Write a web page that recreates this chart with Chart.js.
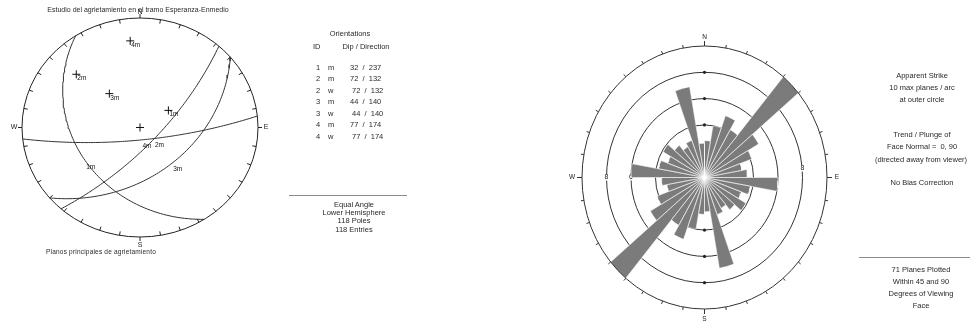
<!DOCTYPE html>
<html>
<head>
<meta charset="utf-8">
<script src="https://cdn.jsdelivr.net/npm/chart.js@4/dist/chart.umd.min.js"></script>
<style>
  body { margin: 0; background: #fff; width: 970px; height: 324px; overflow: hidden; position: relative;
         font-family: "Liberation Sans", Arial, sans-serif; color: #2a2a2a; }
  #txt { position: absolute; left: 0; top: 0; width: 970px; height: 324px; filter: grayscale(1); will-change: transform; }
  .t { position: absolute; font-size: 7.5px; line-height: 1; white-space: nowrap; -webkit-font-smoothing: antialiased; }
  .c { transform: translateX(-50%); }
  .rule { position: absolute; height: 1px; background: #8a8a8a; }
</style>
</head>
<body>
<div style="position:absolute;left:0;top:0;width:280px;height:262px"><canvas id="stereo"></canvas></div>
<div style="position:absolute;left:560px;top:0;width:290px;height:324px"><canvas id="rose"></canvas></div>

<div id="txt">
<div class="t c" style="left:138px;top:6px;font-size:7px">Estudio del agrietamiento en el tramo Esperanza-Enmedio</div>
<div class="t c" style="left:101px;top:249px;font-size:6.5px;letter-spacing:0.2px">Planos principales de agrietamiento</div>

<div class="t c" style="left:350px;top:30px">Orientations</div>
<div class="t" style="left:313px;top:43px">ID</div>
<div class="t c" style="left:366px;top:43px">Dip / Direction</div>
<div id="rows"></div>

<div class="rule" style="left:289px;top:195px;width:118px"></div>
<div class="t c" style="left:354px;top:201px">Equal Angle</div>
<div class="t c" style="left:354px;top:209px">Lower Hemisphere</div>
<div class="t c" style="left:354px;top:217px">118 Poles</div>
<div class="t c" style="left:354px;top:226px">118 Entries</div>

<div class="t c" style="left:922px;top:72px">Apparent Strike</div>
<div class="t c" style="left:922px;top:84px">10 max planes / arc</div>
<div class="t c" style="left:922px;top:96px">at outer circle</div>
<div class="t c" style="left:922px;top:131px">Trend / Plunge of</div>
<div class="t c" style="left:922px;top:143px">Face Normal =&nbsp;&nbsp;0, 90</div>
<div class="t c" style="left:921px;top:156px">(directed away from viewer)</div>
<div class="t c" style="left:922px;top:179px">No Bias Correction</div>

<div class="rule" style="left:859px;top:257px;width:111px"></div>
<div class="t c" style="left:921px;top:266px">71 Planes Plotted</div>
<div class="t c" style="left:921px;top:278px">Within 45 and 90</div>
<div class="t c" style="left:921px;top:290px">Degrees of Viewing</div>
<div class="t c" style="left:921px;top:302px">Face</div>
</div>

<script>
// stereonet: mean (m) and weighted (w) plane orientations
const planeIds = ["1", "2", "2", "3", "3", "4", "4"];
const planeTypes = ["m", "m", "w", "m", "w", "m", "w"];
const dips = [32, 72, 72, 44, 44, 77, 77];
const dipDirections = [237, 132, 132, 140, 140, 174, 174];

// rose diagram: apparent strike, 10 degree arcs (bidirectional)
const strikeBinStarts = [0, 10, 20, 30, 40, 50, 60, 70, 80, 90, 100, 110, 120, 130, 140, 150, 160, 170];
const planesPerArc = [2.8, 4, 5, 4.2, 10, 5.1, 4.1, 3.1, 3.5, 6, 3.8, 3.2, 3.9, 3.2, 2.7, 3, 7, 2.6];
const ringValues = [2, 4, 6, 8];
const ringMax = 10;

const RAD = Math.PI / 180;
const FONT = '7px "Liberation Sans", Arial, sans-serif';

// table rows
const rowsEl = document.getElementById("rows");
const rowTops = [64, 75, 87, 98, 110, 121, 133];
planeIds.forEach((id, i) => {
  const shift = planeTypes[i] === "w" ? 2 : 0;
  rowsEl.insertAdjacentHTML("beforeend",
    `<div class="t" style="left:316px;top:${rowTops[i]}px">${id}</div>` +
    `<div class="t" style="left:328px;top:${rowTops[i]}px">${planeTypes[i]}</div>` +
    `<div class="t" style="left:${350 + shift}px;top:${rowTops[i]}px">${dips[i]}&nbsp; /&nbsp; ${dipDirections[i]}</div>`);
});

// equal angle, lower hemisphere
function project(n, e, d) {
  return { x: e / (1 + d), y: n / (1 + d) };
}

function greatCircle(dip, dipDir) {
  const a = dipDir * RAD, dp = dip * RAD, s = a - Math.PI / 2;
  const pts = [];
  for (let t = 0; t <= 180; t += 2) {
    const tr = t * RAD;
    const n = Math.cos(tr) * Math.cos(s) + Math.sin(tr) * Math.cos(a) * Math.cos(dp);
    const e = Math.cos(tr) * Math.sin(s) + Math.sin(tr) * Math.sin(a) * Math.cos(dp);
    const d = Math.sin(tr) * Math.sin(dp);
    pts.push(project(n, e, d));
  }
  return pts;
}

function pole(dip, dipDir) {
  const a = dipDir * RAD, dp = dip * RAD;
  return project(-Math.cos(a) * Math.sin(dp), -Math.sin(a) * Math.sin(dp), Math.cos(dp));
}

const meanIdx = planeTypes.map((t, i) => (t === "m" ? i : -1)).filter((i) => i >= 0);

const circleSets = meanIdx.map((i) => ({
  data: greatCircle(dips[i], dipDirections[i]),
  showLine: true,
  borderColor: "#333",
  borderWidth: 1,
  pointRadius: 0,
}));

const poleSet = {
  data: meanIdx.map((i) => pole(dips[i], dipDirections[i])).concat([{ x: 0, y: 0 }]),
  pointStyle: "cross",
  pointRadius: 4,
  borderColor: "#111",
  borderWidth: 1,
};

function frameGeom(chart) {
  const { x, y } = chart.scales;
  const cx = x.getPixelForValue(0), cy = y.getPixelForValue(0);
  return { cx, cy, x, y };
}

const stereoFrame = {
  id: "stereoFrame",
  beforeDatasetsDraw(chart) {
    const { ctx } = chart;
    const { cx, cy, x, y } = frameGeom(chart);
    const rx = x.getPixelForValue(1) - cx, ry = cy - y.getPixelForValue(1);
    ctx.save();
    ctx.strokeStyle = "#222";
    ctx.lineWidth = 1;
    ctx.beginPath();
    ctx.ellipse(cx, cy, rx, ry, 0, 0, Math.PI * 2);
    ctx.stroke();
    for (let a = 0; a < 360; a += 10) {
      const s = Math.sin(a * RAD), c = Math.cos(a * RAD);
      const card = a % 90 === 0;
      const r0 = card ? 0 : -4, r1 = card ? 4 : 0;
      ctx.beginPath();
      ctx.moveTo(cx + (rx + r0) * s, cy - (ry + r0) * c);
      ctx.lineTo(cx + (rx + r1) * s, cy - (ry + r1) * c);
      ctx.stroke();
    }
    ctx.fillStyle = "#222";
    ctx.font = FONT;
    ctx.textAlign = "center";
    ctx.textBaseline = "middle";
    ctx.fillText("N", cx, cy - ry - 6);
    ctx.fillText("S", cx, cy + ry + 8);
    ctx.fillText("W", cx - rx - 8, cy);
    ctx.fillText("E", cx + rx + 8, cy);
    ctx.restore();
  },
  afterDatasetsDraw(chart) {
    const { ctx } = chart;
    const { x, y } = frameGeom(chart);
    ctx.save();
    ctx.fillStyle = "#111";
    ctx.font = '6.5px "Liberation Sans", Arial, sans-serif';
    ctx.textAlign = "left";
    ctx.textBaseline = "top";
    meanIdx.forEach((i) => {
      const label = planeIds[i] + planeTypes[i];
      const p = pole(dips[i], dipDirections[i]);
      ctx.fillText(label, x.getPixelForValue(p.x) + 1, y.getPixelForValue(p.y) + 1);
      const a = dipDirections[i] * RAD, r = Math.tan((90 - dips[i]) * RAD / 2);
      ctx.fillText(label, x.getPixelForValue(r * Math.sin(a)) + 1, y.getPixelForValue(r * Math.cos(a)) + 3);
    });
    ctx.restore();
  },
};

new Chart(document.getElementById("stereo"), {
  type: "scatter",
  data: { datasets: circleSets.concat([poleSet]) },
  options: {
    responsive: true,
    maintainAspectRatio: false,
    animation: false,
    layout: { padding: { left: 22, right: 22, top: 18, bottom: 25 } },
    plugins: { legend: { display: false }, tooltip: { enabled: false } },
    scales: {
      x: { display: false, min: -1, max: 1 },
      y: { display: false, min: -1, max: 1 },
    },
  },
  plugins: [stereoFrame],
});

// rose petals, traced clockwise, mirrored for the opposite strike
const petalPath = [];
const arcStarts = strikeBinStarts.concat(strikeBinStarts.map((s) => s + 180));
const arcCounts = planesPerArc.concat(planesPerArc);
arcStarts.forEach((a0, i) => {
  const v = arcCounts[i];
  petalPath.push({ x: 0, y: 0 });
  for (let k = 0; k <= 4; k++) {
    const a = (a0 + k * 2.5) * RAD;
    petalPath.push({ x: v * Math.sin(a), y: v * Math.cos(a) });
  }
});
petalPath.push({ x: 0, y: 0 });

function drawRing(ctx, chart, v) {
  const { cx, cy, x, y } = frameGeom(chart);
  const rx = x.getPixelForValue(v) - cx, ry = cy - y.getPixelForValue(v);
  ctx.beginPath();
  ctx.ellipse(cx, cy, rx, ry, 0, 0, Math.PI * 2);
  ctx.stroke();
  return { rx, ry };
}

const roseFrame = {
  id: "roseFrame",
  beforeDatasetsDraw(chart) {
    const { ctx } = chart;
    const { cx, cy, x, y } = frameGeom(chart);
    ctx.save();
    ctx.strokeStyle = "#333";
    ctx.lineWidth = 1;
    ringValues.forEach((v) => drawRing(ctx, chart, v));
    ctx.fillStyle = "#222";
    ringValues.forEach((v) => {
      [y.getPixelForValue(v), y.getPixelForValue(-v)].forEach((py) => {
        ctx.beginPath();
        ctx.arc(cx, py, 1.6, 0, Math.PI * 2);
        ctx.fill();
      });
    });
    ctx.font = FONT;
    ctx.textAlign = "center";
    ctx.textBaseline = "middle";
    [6, 8].forEach((v) => {
      const px = x.getPixelForValue(-v);
      ctx.fillStyle = "#fff";
      ctx.fillRect(px - 2.5, cy - 3, 5, 6);
      ctx.fillStyle = "#222";
      ctx.fillText(String(v), px, cy);
    });
    const pe = x.getPixelForValue(8);
    ctx.fillStyle = "#fff";
    ctx.fillRect(pe - 2.5, cy - 12, 5, 6);
    ctx.fillStyle = "#222";
    ctx.fillText("8", pe, cy - 9);
    ctx.restore();
  },
  afterDatasetsDraw(chart) {
    const { ctx } = chart;
    const { cx, cy } = frameGeom(chart);
    ctx.save();
    ctx.strokeStyle = "#333";
    ctx.lineWidth = 1;
    const { rx, ry } = drawRing(ctx, chart, ringMax);
    for (let a = 0; a < 360; a += 10) {
      const s = Math.sin(a * RAD), c = Math.cos(a * RAD);
      const len = a % 90 === 0 ? 5 : 3;
      ctx.beginPath();
      ctx.moveTo(cx + rx * s, cy - ry * c);
      ctx.lineTo(cx + (rx + len) * s, cy - (ry + len) * c);
      ctx.stroke();
    }
    ctx.fillStyle = "#222";
    ctx.font = '6.5px "Liberation Sans", Arial, sans-serif';
    ctx.textAlign = "center";
    ctx.textBaseline = "middle";
    ctx.fillText("N", cx, cy - ry - 9);
    ctx.fillText("S", cx, cy + ry + 10);
    ctx.fillText("W", cx - rx - 10, cy);
    ctx.fillText("E", cx + rx + 10, cy);
    ctx.restore();
  },
};

new Chart(document.getElementById("rose"), {
  type: "scatter",
  data: {
    datasets: [{
      data: petalPath,
      showLine: true,
      fill: "shape",
      backgroundColor: "#7b7b7b",
      borderColor: "#fff",
      borderWidth: 0.5,
      pointRadius: 0,
    }],
  },
  options: {
    responsive: true,
    maintainAspectRatio: false,
    animation: false,
    layout: { padding: { left: 22, right: 23, top: 46, bottom: 15 } },
    plugins: { legend: { display: false }, tooltip: { enabled: false } },
    scales: {
      x: { display: false, min: -ringMax, max: ringMax },
      y: { display: false, min: -ringMax, max: ringMax },
    },
  },
  plugins: [roseFrame],
});
</script>
</body>
</html>
